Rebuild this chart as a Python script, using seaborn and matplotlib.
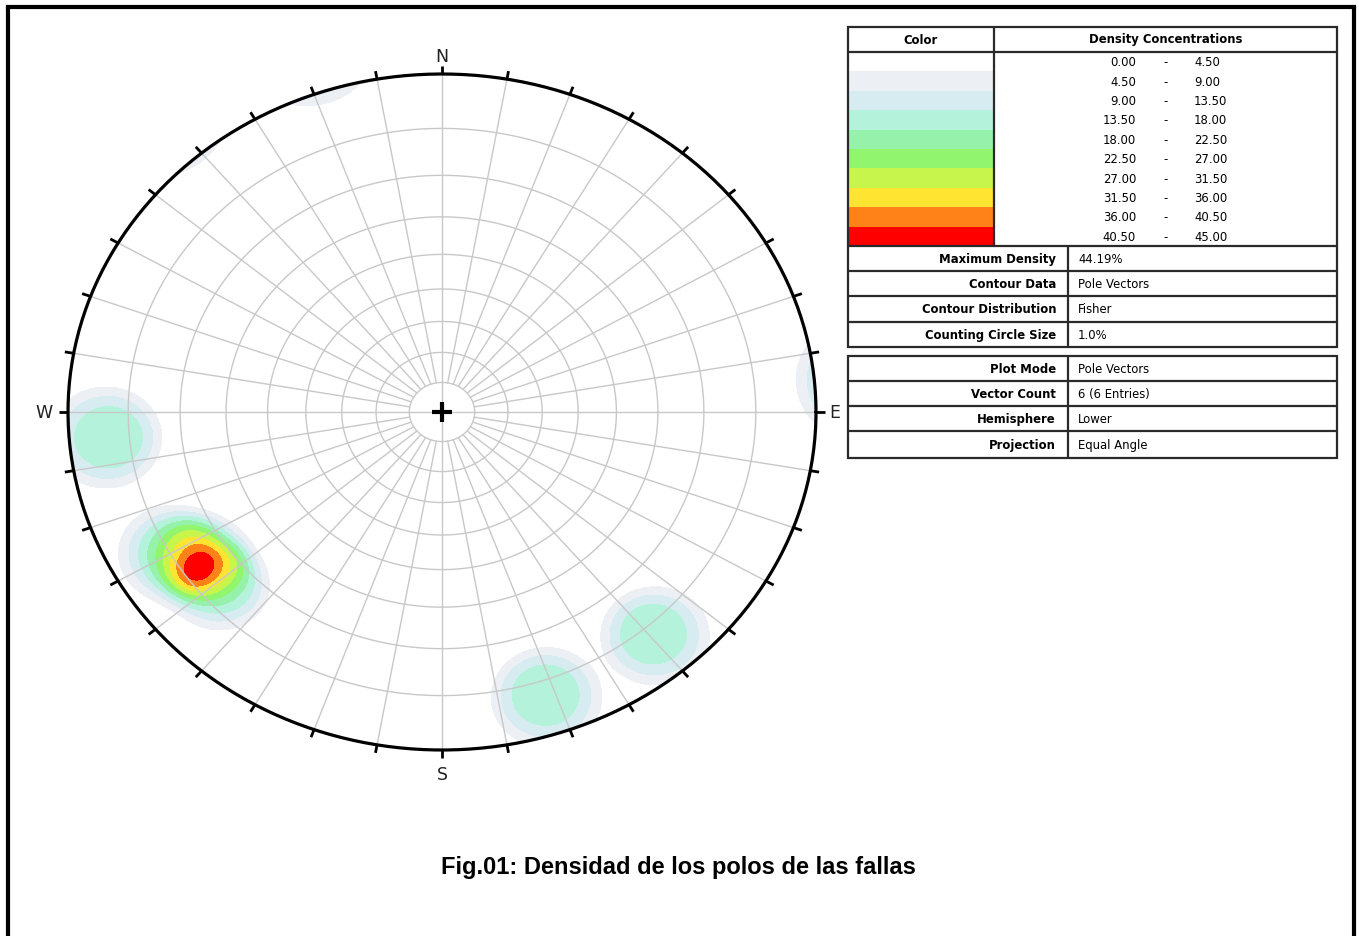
import numpy as np
import matplotlib
matplotlib.use("Agg")
import matplotlib.pyplot as plt
import seaborn as sns
from matplotlib.patches import Circle, Rectangle

# ---------------- data ----------------
pole_trend = [265.2, 240.0, 236.0, 229.3, 161.7, 139.3]
pole_plunge = [6.6, 10.8, 15.0, 14.4, 7.4, 8.4]

level_bounds = [0.0, 4.5, 9.0, 13.5, 18.0, 22.5, 27.0, 31.5, 36.0, 40.5, 45.0]
level_colors = ["#ffffff", "#eceff3", "#d6ecf0", "#b4f2dc", "#96f2aa",
                "#91f56e", "#c8f54b", "#ffe432", "#ff8219", "#ff0000"]

dip_circles = [10, 20, 30, 40, 50, 60, 70, 80]
azimuths = list(range(0, 360, 10))
cardinal_labels = ["N", "E", "S", "W"]
cardinal_az = [0, 90, 180, 270]

info_labels1 = ["Maximum Density", "Contour Data", "Contour Distribution", "Counting Circle Size"]
info_values1 = ["44.19%", "Pole Vectors", "Fisher", "1.0%"]
info_labels2 = ["Plot Mode", "Vector Count", "Hemisphere", "Projection"]
info_values2 = ["Pole Vectors", "6 (6 Entries)", "Lower", "Equal Angle"]
title_text = "Fig.01: Densidad de los polos de las fallas"

kernel_width_deg = 8.8
kernel_power = 3.7

# ---------------- figure ----------------
sns.set_theme(style="white")
plt.rcParams["font.family"] = ["DejaVu Sans"]
plt.rcParams["text.color"] = "black"
W, H = 1359, 937
fig = plt.figure(figsize=(W / 100, H / 100), dpi=100)
fig.patch.set_facecolor("white")

cx, cy, Rx, Ry = 442, 413, 374, 338
ax = fig.add_axes([(cx - Rx) / W, (H - cy - Ry) / H, 2 * Rx / W, 2 * Ry / H])
ax.set_xlim(-1, 1)
ax.set_ylim(-1, 1)
ax.set_axis_off()


def to_vec(tr, pl):
    tr = np.radians(np.asarray(tr, float))
    pl = np.radians(np.asarray(pl, float))
    return np.stack([np.cos(pl) * np.cos(tr), np.cos(pl) * np.sin(tr), np.sin(pl)], -1)


# density grid (equal angle, lower hemisphere)
g = np.linspace(-1.05, 1.05, 700)
gx, gy = np.meshgrid(g, g)
rho = np.hypot(gx, gy)
gpl = 90 - np.degrees(2 * np.arctan(rho))
gtr = np.degrees(np.arctan2(gx, gy))
G = to_vec(gtr, gpl)
P = to_vec(pole_trend, pole_plunge)
cosang = np.clip(np.abs(G @ P.T), 0, 1)
ang = np.degrees(np.arccos(cosang))
dens = (100.0 / len(pole_trend)) * np.exp(-(ang / kernel_width_deg) ** kernel_power).sum(-1)

pal = sns.color_palette(level_colors)
cs = ax.contourf(gx, gy, dens, levels=level_bounds[1:], colors=pal[1:], zorder=1)
clip = Circle((0, 0), 1, transform=ax.transData)
cs.set_clip_path(clip)

# grid
gc = "#c8c8c8"
t = np.linspace(0, 2 * np.pi, 400)
for d in dip_circles:
    r = np.tan(np.radians(d) / 2)
    ax.plot(r * np.cos(t), r * np.sin(t), color=gc, lw=1, zorder=2)
r0 = np.tan(np.radians(dip_circles[0]) / 2)
for a in azimuths:
    ar = np.radians(a)
    start = 0 if a % 90 == 0 else r0
    ax.plot([start * np.sin(ar), np.sin(ar)], [start * np.cos(ar), np.cos(ar)],
            color=gc, lw=1, zorder=2)

# primitive circle and ticks
ax.plot(np.cos(t), np.sin(t), color="black", lw=2.3, zorder=4, clip_on=False)
for a in azimuths:
    ar = np.radians(a)
    ax.plot([np.sin(ar), 1.024 * np.sin(ar)], [np.cos(ar), 1.024 * np.cos(ar)],
            color="black", lw=2, zorder=4, clip_on=False, solid_capstyle="butt")

label_radius = {"N": 1.053, "E": 1.051, "S": 1.071, "W": 1.064}
for lab, a in zip(cardinal_labels, cardinal_az):
    ar = np.radians(a)
    k = label_radius[lab]
    ax.text(k * np.sin(ar), k * np.cos(ar), lab,
            ha="center", va="center", fontsize=12.5, color="#222222", zorder=5)

# centre cross
ax.plot([-0.028, 0.028], [0, 0], color="black", lw=3, zorder=5, solid_capstyle="butt")
ax.plot([0, 0], [-0.031, 0.031], color="black", lw=3, zorder=5, solid_capstyle="butt")

# ---------------- overlay (frame, tables, title) ----------------
ov = fig.add_axes([0, 0, 1, 1], zorder=-1)
ov.set_xlim(0, W)
ov.set_ylim(H, 0)
ov.set_axis_off()

# page frame
ov.plot([8, 1354], [8, 8], color="black", lw=3, solid_capstyle="projecting")
ov.plot([8, 8], [8, H + 5], color="black", lw=3)
ov.plot([1354, 1354], [8, H + 5], color="black", lw=3)

lc = "#2a2a2a"
lw = 1.6
fs = 8.4

# colour table
x0, x1, xc, x2 = 848, 994, 1068, 1337
ytop, yhead, ycol_end = 28, 53, 247
row_h = (ycol_end - yhead) / len(level_colors)
for i, c in enumerate(level_colors):
    ov.add_patch(Rectangle((x0, yhead + i * row_h), x1 - x0, row_h,
                           facecolor=c, edgecolor="none", zorder=1))
    yc = yhead + (i + 0.5) * row_h
    ov.text(1136, yc, f"{level_bounds[i]:.2f}", ha="right", va="center", fontsize=fs)
    ov.text(1165, yc, "-", ha="center", va="center", fontsize=fs)
    ov.text(1194, yc, f"{level_bounds[i + 1]:.2f}", ha="left", va="center", fontsize=fs)

ov.text((x0 + x1) / 2, 40, "Color", ha="center", va="center", fontsize=fs, fontweight="bold")
ov.text((x1 + x2) / 2, 40, "Density Concentrations", ha="center", va="center",
        fontsize=fs, fontweight="bold")

rows1 = [247, 272, 297, 323, 348]
ov.add_patch(Rectangle((x0, ytop), x2 - x0, rows1[-1] - ytop, fill=False,
                       edgecolor=lc, lw=lw, zorder=3))
ov.plot([x0, x2], [yhead, yhead], color=lc, lw=lw, zorder=3)
ov.plot([x1, x1], [ytop, ycol_end], color=lc, lw=lw, zorder=3)
for y in rows1[:-1]:
    ov.plot([x0, x2], [y, y], color=lc, lw=lw, zorder=3)
ov.plot([xc, xc], [rows1[0], rows1[-1]], color=lc, lw=lw, zorder=3)
for i, (lab, val) in enumerate(zip(info_labels1, info_values1)):
    yc = (rows1[i] + rows1[i + 1]) / 2
    ov.text(1056, yc, lab, ha="right", va="center", fontsize=fs, fontweight="bold")
    ov.text(1078, yc, val, ha="left", va="center", fontsize=fs)

rows2 = [357, 382, 407, 432, 459]
ov.add_patch(Rectangle((x0, rows2[0]), x2 - x0, rows2[-1] - rows2[0], fill=False,
                       edgecolor=lc, lw=lw, zorder=3))
for y in rows2[1:-1]:
    ov.plot([x0, x2], [y, y], color=lc, lw=lw, zorder=3)
ov.plot([xc, xc], [rows2[0], rows2[-1]], color=lc, lw=lw, zorder=3)
for i, (lab, val) in enumerate(zip(info_labels2, info_values2)):
    yc = (rows2[i] + rows2[i + 1]) / 2
    ov.text(1056, yc, lab, ha="right", va="center", fontsize=fs, fontweight="bold")
    ov.text(1078, yc, val, ha="left", va="center", fontsize=fs)

ov.text(678, 868, title_text, ha="center", va="center", fontsize=17,
        fontweight="bold", color="black", family=["Liberation Sans", "DejaVu Sans"])

fig.savefig("out.png", dpi=100, facecolor="white")
